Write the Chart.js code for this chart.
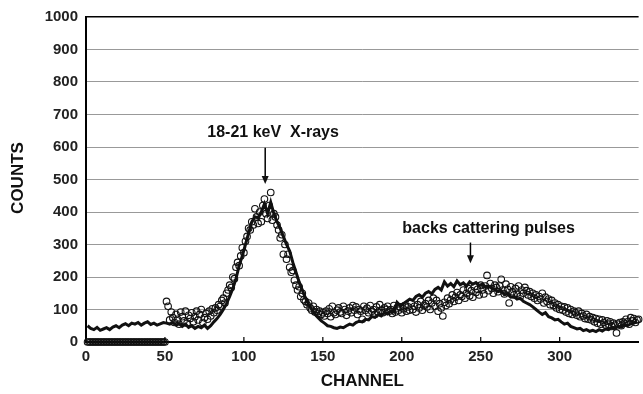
<!DOCTYPE html>
<html>
<head>
<meta charset="utf-8">
<script src="https://cdn.jsdelivr.net/npm/chart.js@4.4.1/dist/chart.umd.min.js"></script>
<style>
  html,body{margin:0;padding:0;background:#fff}
  #wrap{width:643px;height:394px;position:relative}
</style>
</head>
<body>
<div id="wrap"><canvas id="chart"></canvas></div>
<script>
// simulated spectrum (thick line), one value every 2 channels starting at channel 1
const lineStart = 1, lineStep = 2;
const lineCounts = [
  50,42,38,45,36,40,44,38,46,50, 44,52,56,50,58,55,60,52,58,62,
  54,58,52,56,60,58,55,60,52,56, 48,55,45,50,42,48,44,52,42,50,
  62,72,85,100,118,140,165,195,235,265, 300,335,370,385,382,400,425,395,430,395,
  370,350,325,300,280,245,215,185,160,135, 115,100,85,75,65,58,50,48,44,42,
  46,44,50,55,52,60,64,62,70,68, 78,76,84,80,90,86,95,92,122,112,
  118,125,132,128,140,145,138,150,155,148, 162,168,160,185,172,180,170,188,176,182,
  172,185,178,183,174,178,170,172,165,162, 155,158,145,148,138,140,132,135,125,120,
  115,108,100,92,85,90,78,74,68,70, 62,55,58,48,44,40,42,35,38,33,
  36,32,38,34,40,38,44,42,48,46, 52,50,56,58,62
];

// measured counts (open circles), one value per channel starting at channel 1
const dotStart = 1;
const dotCounts = [
  0,0,0,0,0,0,0,0,0,0, 0,0,0,0,0,0,0,0,0,0,
  0,0,0,0,0,0,0,0,0,0, 0,0,0,0,0,0,0,0,0,0,
  0,0,0,0,0,0,0,0,0,0,
  125,110,68,92,75,60,85,70,55,92,
  78,65,95,58,82,72,90,62,78,95,
  68,85,100,60,75,88,70,95,80,102,
  90,105,98,115,110,128,135,120,150,160,
  175,168,200,195,230,245,235,265,290,275,
  310,325,350,345,370,360,410,385,365,400,
  370,420,440,395,380,420,460,375,395,385,
  360,345,320,330,270,300,255,270,230,215,
  220,190,175,160,170,140,150,130,125,115,
  120,105,98,110,92,100,88,95,85,90,
  80,95,88,102,78,110,90,85,98,105,
  92,88,110,100,82,95,105,90,112,98,
  108,85,100,95,70,110,98,104,90,112,
  95,100,85,108,92,115,98,90,105,100,
  110,95,100,88,112,92,105,98,108,90,
  102,112,95,108,98,120,100,110,92,115,
  105,125,98,112,118,108,128,100,120,135,
  110,128,95,118,105,80,122,112,135,118,
  130,145,125,138,152,128,145,140,160,135,
  150,165,142,158,138,170,152,162,145,175,
  160,148,172,205,158,180,165,150,175,168,
  155,172,193,160,148,178,162,120,170,155,
  145,165,150,172,140,160,150,168,158,145,
  155,140,150,135,145,128,140,132,150,120,
  138,125,132,115,128,112,120,105,115,100,
  110,98,108,92,105,88,100,85,95,90,
  82,95,78,88,80,72,85,70,78,68,
  75,62,72,58,70,55,68,60,52,65,
  55,62,48,58,52,28,55,60,50,62,
  58,70,62,55,75,65,72,60,68,70
];

const xTicks = [0, 50, 100, 150, 200, 250, 300];
const xTitle = 'CHANNEL';
const yTitle = 'COUNTS';
const notes = [
  { text: '18-21 keV  X-rays', x: 118.5, y: 645, arrowX: 113.5, from: 598, to: 486 },
  { text: 'backs cattering pulses', x: 255, y: 350, arrowX: 243.5, from: 306, to: 242 }
];

const lineData = lineCounts.map((v, i) => ({ x: lineStart + i * lineStep, y: v }));
const dotData = dotCounts.map((v, i) => ({ x: dotStart + i, y: v }));

const FONT = '"Liberation Sans", Arial, sans-serif';

const extras = {
  id: 'extras',
  afterDatasetsDraw(chart) {
    const { ctx, chartArea, scales: { x, y } } = chart;
    ctx.save();
    // x tick marks pointing up into the plot
    ctx.strokeStyle = '#000';
    ctx.lineWidth = 1.2;
    xTicks.forEach(t => {
      if (t === 0) return;
      const px = x.getPixelForValue(t);
      ctx.beginPath();
      ctx.moveTo(px, chartArea.bottom);
      ctx.lineTo(px, chartArea.bottom - 5);
      ctx.stroke();
    });
    // notes with arrows
    ctx.fillStyle = '#111';
    ctx.font = 'bold 16px ' + FONT;
    ctx.textAlign = 'center';
    ctx.textBaseline = 'middle';
    notes.forEach(n => {
      ctx.fillText(n.text, x.getPixelForValue(n.x), y.getPixelForValue(n.y));
      const ax = x.getPixelForValue(n.arrowX);
      const y0 = y.getPixelForValue(n.from), y1 = y.getPixelForValue(n.to);
      ctx.lineWidth = 1.5;
      ctx.beginPath();
      ctx.moveTo(ax, y0);
      ctx.lineTo(ax, y1 - 7);
      ctx.stroke();
      ctx.beginPath();
      ctx.moveTo(ax - 3.5, y1 - 8);
      ctx.lineTo(ax + 3.5, y1 - 8);
      ctx.lineTo(ax, y1);
      ctx.closePath();
      ctx.fill();
    });
    // axis titles
    ctx.font = 'bold 17px ' + FONT;
    ctx.fillText(xTitle, (chartArea.left + chartArea.right) / 2, 381);
    ctx.translate(18, 178);
    ctx.rotate(-Math.PI / 2);
    ctx.fillText(yTitle, 0, 0);
    ctx.restore();
  }
};

new Chart(document.getElementById('chart'), {
  type: 'scatter',
  data: {
    datasets: [
      { label: 'measured', data: dotData, showLine: false, clip: false, pointRadius: 3.3, pointBorderWidth: 1.1,
        pointBorderColor: '#111', pointBackgroundColor: 'rgba(255,255,255,0)', pointHoverRadius: 3.3 },
      { label: 'simulated', data: lineData, showLine: true, borderColor: '#111', borderWidth: 3,
        pointRadius: 0, tension: 0 }
    ]
  },
  options: {
    responsive: true, maintainAspectRatio: false, animation: false,
    layout: { padding: { top: 15, right: 0, left: 0, bottom: 0 } },
    plugins: { legend: { display: false }, tooltip: { enabled: false } },
    scales: {
      x: {
        type: 'linear', min: 0, max: 350,
        afterBuildTicks: s => { s.ticks = xTicks.map(v => ({ value: v })); },
        afterFit: s => { s.height = 52; },
        ticks: { font: { family: FONT, size: 15, weight: 'bold' }, color: '#222', padding: 6, maxRotation: 0,
                 callback: v => String(v) },
        grid: { drawOnChartArea: false, drawTicks: false },
        border: { color: '#000', width: 2 }
      },
      y: {
        min: 0, max: 1000,
        ticks: { stepSize: 100, font: { family: FONT, size: 15, weight: 'bold' }, color: '#222', padding: 8,
                 callback: v => String(v) },
        afterFit: s => { s.width = 86; },
        grid: { color: c => c.tick && c.tick.value === 1000 ? '#000' : '#999', lineWidth: c => c.tick && c.tick.value === 1000 ? 1.5 : 1, drawTicks: false },
        border: { color: '#000', width: 2 }
      }
    }
  },
  plugins: [extras]
});
</script>
</body>
</html>
